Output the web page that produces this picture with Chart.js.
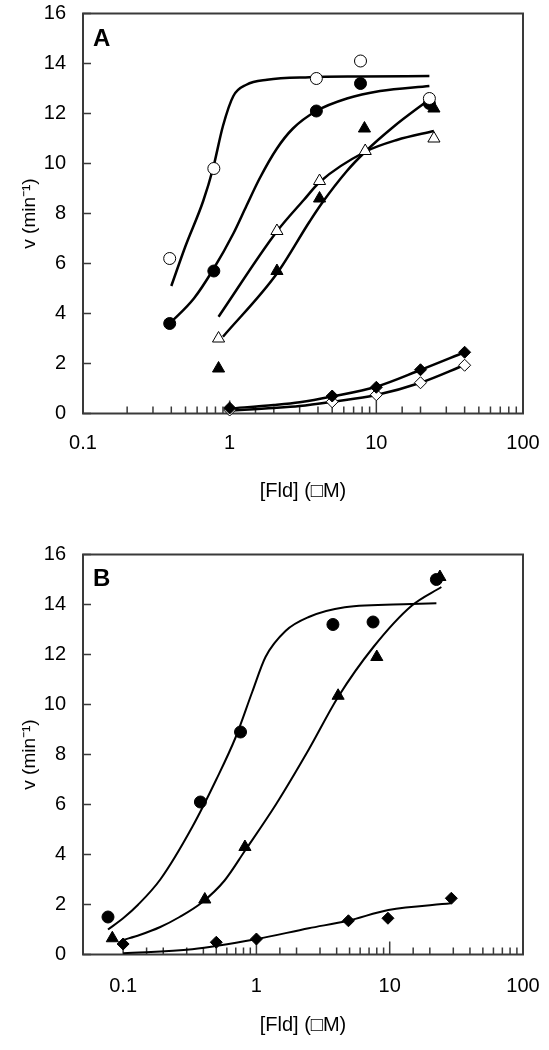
<!DOCTYPE html>
<html>
<head>
<meta charset="utf-8">
<script src="https://cdn.jsdelivr.net/npm/chart.js@4/dist/chart.umd.min.js"></script>
<style>
  html, body { margin: 0; padding: 0; background: #fff; }
  canvas { position: absolute; left: 0; }
  #chartA { top: 0; }
  #chartB { top: 520px; }
</style>
</head>
<body>
<canvas id="chartA" width="549" height="520"></canvas>
<canvas id="chartB" width="549" height="530"></canvas>
<script>
// ---- tick labels / titles
const xTickLabels = [0.1, 1, 10, 100]
const xTitle = '[Fld] (\u25A1M)'
const yTitle = 'v (min\u207B\u00B9)'

// ---- panel A : measured points
const aOpenCircleX = [0.39, 0.78, 3.9, 7.8, 23]
const aOpenCircleY = [6.2, 9.8, 13.4, 14.1, 12.6]
const aFilledCircleX = [0.39, 0.78, 3.9, 7.8, 23]
const aFilledCircleY = [3.6, 5.7, 12.1, 13.2, 12.4]
const aFilledTriX = [0.84, 2.1, 4.1, 8.3, 24.7]
const aFilledTriY = [1.8, 5.7, 8.6, 11.4, 12.2]
const aOpenTriX = [0.84, 2.1, 4.1, 8.4, 24.7]
const aOpenTriY = [3.0, 7.3, 9.3, 10.5, 11.0]
const aFilledDiaX = [1.0, 5, 10, 20, 40]
const aFilledDiaY = [0.22, 0.7, 1.05, 1.75, 2.45]
const aOpenDiaX = [1.0, 5, 10, 20, 40]
const aOpenDiaY = [0.14, 0.47, 0.75, 1.23, 1.93]

// ---- panel A : fitted curves
const aFitOpenCircleX = [0.4, 0.5, 0.66, 0.77, 0.9, 1.06, 1.3, 1.8, 3.5, 8, 23]
const aFitOpenCircleY = [5.1, 6.7, 8.5, 9.8, 11.5, 12.7, 13.15, 13.35, 13.45, 13.48, 13.5]
const aFitFilledCircleX = [0.39, 0.57, 0.77, 1.06, 1.3, 1.6, 2.1, 2.7, 3.9, 6.3, 10.6, 23]
const aFitFilledCircleY = [3.6, 4.6, 5.75, 7.2, 8.3, 9.4, 10.6, 11.4, 12.1, 12.6, 12.9, 13.1]
const aFitOpenTriX = [0.84, 2.09, 3.2, 4.13, 8.4, 13.8, 24.7]
const aFitOpenTriY = [3.87, 7.27, 8.54, 9.27, 10.47, 10.94, 11.3]
const aFitFilledTriX = [0.9, 2.1, 3.5, 4.24, 6.3, 8.4, 13.1, 23.2]
const aFitFilledTriY = [3.07, 5.6, 7.67, 8.4, 9.7, 10.47, 11.47, 12.58]
const aFitFilledDiaX = [1.0, 2, 3, 5, 10, 20, 40]
const aFitFilledDiaY = [0.2, 0.34, 0.45, 0.68, 1.07, 1.74, 2.45]
const aFitOpenDiaX = [1.0, 2, 3, 5, 10, 20, 40]
const aFitOpenDiaY = [0.12, 0.22, 0.3, 0.47, 0.74, 1.23, 1.94]

// ---- panel B : measured points
const bCircleX = [0.077, 0.38, 0.76, 3.75, 7.5, 22.4]
const bCircleY = [1.5, 6.1, 8.9, 13.2, 13.3, 15.0]
const bTriX = [0.083, 0.41, 0.82, 4.1, 8.0, 23.8]
const bTriY = [0.65, 2.2, 4.3, 10.35, 11.9, 15.1]
const bDiaX = [0.1, 0.5, 1.0, 4.9, 9.7, 29]
const bDiaY = [0.42, 0.49, 0.62, 1.35, 1.45, 2.25]

// ---- panel B : fitted curves
const bFitCircleX = [0.077, 0.1, 0.13, 0.19, 0.33, 0.5, 0.7, 0.93, 1.17, 1.66, 2.47, 4.6, 14.6, 22.4]
const bFitCircleY = [1.0, 1.45, 2.0, 3.0, 5.1, 7.0, 8.7, 10.5, 11.9, 12.95, 13.5, 13.89, 14.02, 14.05]
const bFitTriX = [0.1, 0.133, 0.19, 0.265, 0.39, 0.575, 0.82, 1.4, 2.47, 4.1, 7.55, 14.6, 24.4]
const bFitTriY = [0.58, 0.78, 1.1, 1.5, 2.08, 2.95, 4.15, 6.0, 8.2, 10.3, 12.3, 13.95, 14.7]
const bFitDiaX = [0.1, 0.33, 0.99, 2.47, 4.86, 9.77, 28.7]
const bFitDiaY = [0.05, 0.21, 0.61, 1.05, 1.35, 1.78, 2.05]

Chart.defaults.font.family = '"Liberation Sans", Arial, sans-serif'
Chart.defaults.color = '#000'

const pts = (xs, ys) => xs.map((x, i) => ({ x: x, y: ys[i] }))

function markers(label, xs, ys, style, filled, r) {
  return {
    label: label, data: pts(xs, ys), showLine: false, order: 0, clip: false,
    pointStyle: style, pointRadius: r, pointHoverRadius: r,
    pointBackgroundColor: filled ? '#000' : '#fff',
    pointBorderColor: '#000', pointBorderWidth: 1
  }
}
function curve(label, xs, ys, w) {
  return {
    label: label, data: pts(xs, ys), showLine: true, order: 1, clip: false,
    pointRadius: 0, borderColor: '#000', borderWidth: w,
    cubicInterpolationMode: 'monotone', fill: false
  }
}

// frame, inward ticks and panel letter
const frameTicks = {
  id: 'frameTicks',
  beforeDatasetsDraw(chart, args, opts) {
    const { ctx, chartArea: a, scales: { x, y } } = chart
    ctx.save()
    ctx.strokeStyle = '#3a3a3a'
    ctx.lineWidth = 2
    ctx.strokeRect(a.left, a.top, a.right - a.left, a.bottom - a.top)
    ctx.lineWidth = 1.5
    ctx.beginPath()
    y.ticks.forEach(t => {
      const py = y.getPixelForValue(t.value)
      ctx.moveTo(a.left, py)
      ctx.lineTo(a.left + 8, py)
    })
    x.ticks.forEach(t => {
      const px = x.getPixelForValue(t.value)
      const lg = Math.log10(t.value)
      const major = Math.abs(lg - Math.round(lg)) < 1e-6
      ctx.moveTo(px, a.bottom)
      ctx.lineTo(px, a.bottom - (major ? 13 : 7))
    })
    ctx.stroke()
    ctx.fillStyle = '#000'
    ctx.font = 'bold 24px "Liberation Sans", Arial, sans-serif'
    ctx.textBaseline = 'alphabetic'
    ctx.fillText(opts.letter, a.left + 10, a.top + opts.letterDy)
    ctx.restore()
  }
}

function tickLabel(v) {
  const hit = xTickLabels.find(l => Math.abs(Math.log10(v) - Math.log10(l)) < 1e-6)
  return hit === undefined ? '' : String(hit)
}

function options(cfg) {
  return {
    responsive: false,
    animation: false,
    layout: { padding: { left: 0, right: 26, top: cfg.top, bottom: 0 } },
    plugins: {
      legend: { display: false },
      tooltip: { enabled: false },
      frameTicks: { letter: cfg.letter, letterDy: cfg.letterDy }
    },
    scales: {
      x: {
        type: 'logarithmic', min: cfg.xMin, max: 100,
        grid: { display: false, drawTicks: false },
        border: { display: false },
        ticks: {
          autoSkip: false, maxRotation: 0, minRotation: 0,
          padding: cfg.xTickPad, font: { size: 20 }, color: '#000',
          callback: v => tickLabel(v)
        },
        title: {
          display: true, text: xTitle, color: '#000', font: { size: 20 },
          padding: { top: 0, bottom: cfg.xTitlePad }
        },
        afterBuildTicks: s => { s.ticks = s.ticks.filter(t => t.value >= 0.1 - 1e-9) },
        afterFit: s => {
          s.height = cfg.xHeight
          s.paddingLeft = 0
          s.paddingRight = 0
        }
      },
      y: {
        min: 0, max: 16,
        grid: { display: false, drawTicks: false },
        border: { display: false },
        ticks: { stepSize: 2, padding: 17, font: { size: 20 }, color: '#000' },
        title: {
          display: true, text: yTitle, color: '#000', font: { size: 19 },
          padding: { top: 18, bottom: 0 }
        },
        afterFit: s => {
          s.width = 83
          s.paddingTop = 0
          s.paddingBottom = 0
        }
      }
    }
  }
}

new Chart(document.getElementById('chartA'), {
  type: 'scatter',
  data: {
    datasets: [
      markers('open circle', aOpenCircleX, aOpenCircleY, 'circle', false, 6),
      markers('filled circle', aFilledCircleX, aFilledCircleY, 'circle', true, 6),
      markers('filled triangle', aFilledTriX, aFilledTriY, 'triangle', true, 7),
      markers('open triangle', aOpenTriX, aOpenTriY, 'triangle', false, 7),
      markers('filled diamond', aFilledDiaX, aFilledDiaY, 'rectRot', true, 6),
      markers('open diamond', aOpenDiaX, aOpenDiaY, 'rectRot', false, 6),
      curve('fit open circle', aFitOpenCircleX, aFitOpenCircleY, 2.5),
      curve('fit filled circle', aFitFilledCircleX, aFitFilledCircleY, 2.5),
      curve('fit open triangle', aFitOpenTriX, aFitOpenTriY, 2.5),
      curve('fit filled triangle', aFitFilledTriX, aFitFilledTriY, 2.5),
      curve('fit filled diamond', aFitFilledDiaX, aFitFilledDiaY, 2.5),
      curve('fit open diamond', aFitOpenDiaX, aFitOpenDiaY, 2.5)
    ]
  },
  options: options({ letter: 'A', letterDy: 32, top: 13.5, xMin: 0.1, xHeight: 106.5, xTickPad: 17.5, xTitlePad: 17 }),
  plugins: [frameTicks]
})

new Chart(document.getElementById('chartB'), {
  type: 'scatter',
  data: {
    datasets: [
      markers('circle', bCircleX, bCircleY, 'circle', true, 6),
      markers('triangle', bTriX, bTriY, 'triangle', true, 7),
      markers('diamond', bDiaX, bDiaY, 'rectRot', true, 6),
      curve('fit circle', bFitCircleX, bFitCircleY, 2),
      curve('fit triangle', bFitTriX, bFitTriY, 2),
      curve('fit diamond', bFitDiaX, bFitDiaY, 2)
    ]
  },
  options: options({ letter: 'B', letterDy: 31, top: 34.5, xMin: 0.05, xHeight: 95.5, xTickPad: 19.5, xTitlePad: 13 }),
  plugins: [frameTicks]
})
</script>
</body>
</html>
